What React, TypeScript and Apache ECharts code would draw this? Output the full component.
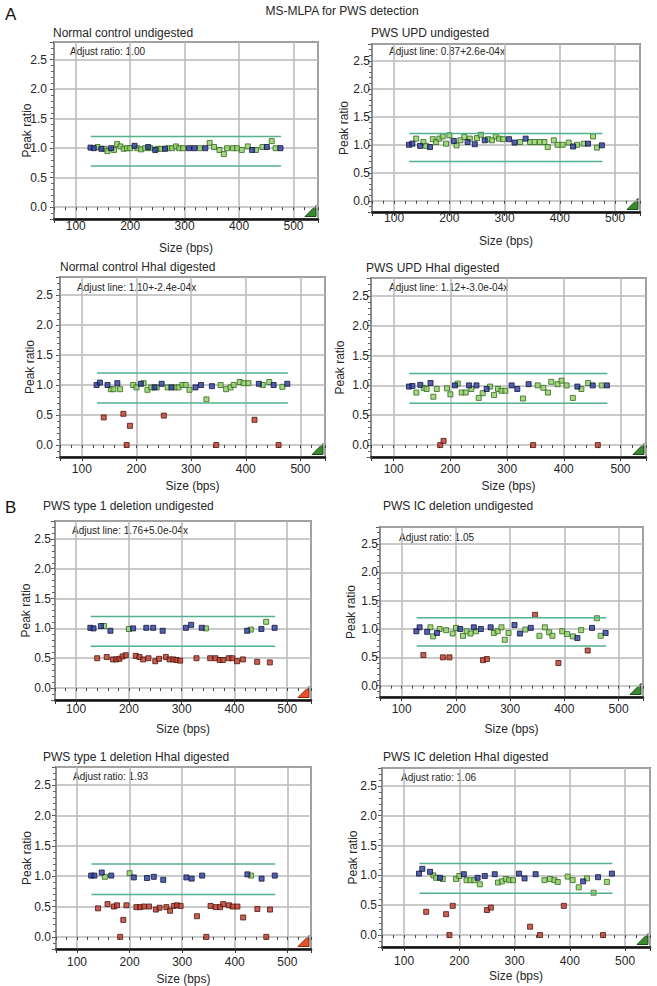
import React, { useEffect, useRef } from "react";
import * as echarts from "echarts";

// ---------- DATA ----------
const REF_SIZES = [127, 133, 147, 165, 208, 233, 246, 264, 308, 318, 338, 424, 451, 476];
const TARGET_SIZES = [140, 153, 158, 170, 176, 182, 188, 194, 200, 213, 220, 227, 237, 250, 257, 270, 277, 284, 290, 297, 328, 346, 354, 364, 372, 378, 389, 396, 405, 416, 431, 443, 460, 467];

const X_TICK_LABELS = [100, 200, 300, 400, 500];
const Y_TICK_LABELS = [0, 0.5, 1, 1.5, 2, 2.5];
const THRESHOLDS = [0.7, 1.2];
const THRESHOLD_SPAN = [127.5, 477];

const TITLES = [
  "Normal control undigested",
  "PWS UPD undigested",
  "Normal control HhaI digested",
  "PWS UPD HhaI digested",
  "PWS type 1 deletion undigested",
  "PWS IC deletion undigested",
  "PWS type 1 deletion HhaI digested",
  "PWS IC deletion HhaI digested",
];
const NOTES = [
  "Adjust ratio: 1.00",
  "Adjust line: 0.87+2.6e-04x",
  "Adjust line: 1.10+-2.4e-04x",
  "Adjust line: 1.12+-3.0e-04x",
  "Adjust line: 1.76+5.0e-04x",
  "Adjust ratio: 1.05",
  "Adjust ratio: 1.93",
  "Adjust ratio: 1.06",
];
const FLAGS = ["ok", "ok", "ok", "ok", "alert", "ok", "alert", "ok"];

// reference probe ratios (blue)
const REF_NC_UNDIG = [1.01, 1.0, 0.99, 1.0, 1.04, 1.02, 0.97, 0.99, 1.0, 1.0, 1.0, 0.97, 1.02, 1.0];
const REF_UPD_UNDIG = [1.0, 1.02, 0.98, 0.96, 1.07, 1.05, 1.01, 1.08, 1.1, 1.04, 1.11, 0.97, 1.02, 0.99];
const REF_NC_HHAI = [1.0, 1.04, 1.0, 1.03, 1.02, 0.96, 1.02, 0.96, 0.96, 1.0, 0.98, 1.02, 1.0, 1.02];
const REF_UPD_HHAI = [0.98, 0.99, 1.01, 1.04, 1.0, 1.0, 1.0, 0.94, 1.0, 0.94, 1.02, 0.98, 1.0, 1.0];
const REF_T1_UNDIG = [1.01, 1.0, 1.04, 0.96, 1.0, 1.01, 1.01, 0.96, 1.01, 1.06, 1.01, 0.96, 0.99, 1.01];
const REF_IC_UNDIG = [0.96, 1.03, 0.95, 0.93, 1.0, 1.03, 1.0, 1.03, 1.07, 0.92, 1.02, 0.84, 1.02, 0.93];
const REF_T1_HHAI = [1.01, 1.01, 1.06, 1.01, 0.98, 0.97, 0.99, 0.94, 0.98, 0.96, 1.01, 1.03, 0.96, 1.01];
const REF_IC_HHAI = [1.03, 1.11, 1.06, 0.96, 1.02, 0.96, 0.99, 1.02, 1.03, 0.95, 1.02, 0.9, 0.97, 1.03];

// target probe ratios (green inside 0.7-1.2, red outside)
const TGT_NC_UNDIG = [1.02, 0.99, 0.95, 0.97, 1.07, 1.03, 0.99, 1.0, 1.0, 1.0, 0.98, 1.0, 1.0, 0.99, 0.99, 1.0, 1.0, 1.03, 1.0, 1.0, 1.0, 1.09, 1.02, 0.97, 0.9, 1.0, 1.0, 1.0, 0.97, 1.03, 0.97, 1.02, 1.12, 1.0];
const TGT_UPD_UNDIG = [1.11, 1.05, 0.98, 1.1, 1.05, 1.11, 1.15, 1.02, 1.17, 0.99, 1.08, 1.14, 1.11, 1.12, 1.18, 1.1, 1.08, 1.15, 1.11, 1.1, 1.05, 1.05, 1.05, 1.05, 1.05, 0.96, 1.08, 1.0, 1.0, 1.04, 1.0, 1.02, 1.15, 0.95];
const TGT_NC_HHAI = [0.46, 0.93, 0.93, 0.93, 0.52, 0.0, 0.32, 1.0, 0.96, 1.03, 0.92, 0.96, 0.96, 0.49, 0.96, 0.96, 0.96, 1.0, 1.0, 0.92, 0.76, 0.0, 1.0, 0.93, 0.96, 1.0, 1.05, 1.03, 1.03, 0.42, 1.0, 1.05, 0.0, 0.97];
const TGT_UPD_HHAI = [0.88, 0.96, 0.94, 0.81, 0.94, 0.0, 0.07, 0.95, 0.85, 1.03, 0.88, 0.88, 0.94, 0.79, 0.87, 0.98, 0.84, 0.94, 0.91, 0.91, 0.78, 0.0, 1.0, 0.96, 0.88, 1.06, 1.02, 1.08, 1.0, 0.79, 0.94, 1.04, 0.0, 1.0];
const TGT_T1_UNDIG = [0.5, 1.04, 0.52, 0.48, 0.48, 0.49, 0.53, 0.55, 0.99, 0.54, 0.52, 0.48, 0.5, 0.45, 0.49, 0.52, 0.48, 0.48, 0.47, 0.46, 0.5, 1.0, 0.5, 0.5, 0.47, 0.47, 0.5, 0.5, 0.45, 0.48, 0.98, 0.44, 1.11, 0.43];
const TGT_IC_UNDIG = [0.54, 1.03, 0.87, 1.0, 0.5, 0.98, 0.5, 0.92, 1.02, 0.88, 0.96, 0.92, 0.96, 0.45, 0.47, 0.93, 0.96, 1.03, 0.81, 0.93, 0.99, 1.25, 0.88, 1.03, 0.94, 0.88, 0.4, 0.96, 0.91, 0.87, 0.98, 0.62, 1.19, 0.88];
const TGT_T1_HHAI = [0.47, 0.99, 0.54, 0.5, 0.52, 0.0, 0.28, 0.52, 1.05, 0.49, 0.49, 0.5, 0.5, 0.45, 0.48, 0.49, 0.43, 0.51, 0.52, 0.51, 0.34, 0.0, 0.51, 0.49, 0.49, 0.54, 0.52, 0.5, 0.5, 0.32, 1.01, 0.46, 0.0, 0.45];
const TGT_IC_HHAI = [0.39, 1.0, 0.96, 0.94, 0.35, 0.0, 0.49, 0.94, 0.99, 0.92, 0.92, 0.92, 0.85, 0.42, 0.46, 0.88, 0.9, 0.94, 0.92, 0.92, 0.14, 0.0, 0.92, 0.94, 0.92, 0.89, 0.49, 0.98, 0.92, 0.8, 0.95, 0.71, 0.0, 0.89];

const REF_VALUES = [REF_NC_UNDIG, REF_UPD_UNDIG, REF_NC_HHAI, REF_UPD_HHAI, REF_T1_UNDIG, REF_IC_UNDIG, REF_T1_HHAI, REF_IC_HHAI];
const TGT_VALUES = [TGT_NC_UNDIG, TGT_UPD_UNDIG, TGT_NC_HHAI, TGT_UPD_HHAI, TGT_T1_UNDIG, TGT_IC_UNDIG, TGT_T1_HHAI, TGT_IC_HHAI];

// ---------- LAYOUT ----------
const X_MIN = 60, X_MAX = 545, Y_MIN = -0.2, Y_MAX = 2.8;
const LAYOUT = [
  { l: 54, t: 42, w: 264, h: 177, lmx: 1, ngx: 23, lmy: 7, ngy: 21, tx: 53, ty: 33, nx: 70, ny: 51 },
  { l: 372, t: 44, w: 268, h: 168, lmx: 0, ngx: 23, lmy: 2, ngy: 22, tx: 371, ty: 33, nx: 389, ny: 51 },
  { l: 60, t: 277, w: 265, h: 180, lmx: 6, ngx: 23, lmy: 7, ngy: 24, tx: 60, ty: 267, nx: 77, ny: 287 },
  { l: 371, t: 278, w: 275, h: 179, lmx: 6, ngx: 23, lmy: 2, ngy: 25, tx: 366, ty: 268, nx: 389, ny: 287 },
  { l: 55, t: 521, w: 256, h: 179, lmx: 3, ngx: 23, lmy: 4, ngy: 23, tx: 43, ty: 506, nx: 72, ny: 530 },
  { l: 380, t: 527, w: 263, h: 170, lmx: 6, ngx: 26, lmy: 2, ngy: 23, tx: 383, ty: 506, nx: 399, ny: 537 },
  { l: 56, t: 767, w: 255, h: 182, lmx: 7, ngx: 24, lmy: 5, ngy: 23, tx: 43, ty: 757, nx: 73, ny: 776 },
  { l: 382, t: 768, w: 268, h: 179, lmx: 8, ngx: 23, lmy: 5, ngy: 23, tx: 383, ty: 757, nx: 401, ny: 777 },
];

const FONT = '"Liberation Sans", Arial, Helvetica, sans-serif';
const TEXT = "#262626";
const COLORS = {
  blue: { fill: "#2c3c9e", border: "#12153a" },
  green: { fill: "#94cd68", border: "#2e6a1c" },
  red: { fill: "#bd3a2c", border: "#4e150d" },
  band: "#55b08e",
  grid: "#b9b9b9",
};

function inRange(v: number) {
  return v >= THRESHOLDS[0] && v <= THRESHOLDS[1];
}

function buildOption() {
  const grid: any[] = [];
  const xAxis: any[] = [];
  const yAxis: any[] = [];
  const series: any[] = [];
  const graphic: any[] = [];

  LAYOUT.forEach((p, i) => {
    grid.push({
      left: p.l, top: p.t, width: p.w, height: p.h,
      show: true, borderColor: "#2a2a2a", borderWidth: 1.5,
      containLabel: false, outerBoundsMode: "none",
    });
    xAxis.push({
      type: "value", gridIndex: i, position: "bottom", min: X_MIN, max: X_MAX, splitNumber: 5,
      axisLine: { show: true, onZero: false, lineStyle: { color: "#111", width: 2.5 } },
      axisTick: { show: true, length: 4, lineStyle: { color: "#333", width: 1 } },
      axisLabel: {
        margin: p.lmx, fontSize: 12, color: TEXT, fontFamily: FONT,
        formatter: (v: number) => (X_TICK_LABELS.some((t) => Math.abs(t - v) < 1e-6) ? String(v) : ""),
      },
      splitLine: { show: true, lineStyle: { color: COLORS.grid, width: 1.5 } },
      name: "Size (bps)", nameLocation: "middle", nameGap: p.ngx, nameMoveOverlap: false,
      nameTextStyle: { fontSize: 12, color: TEXT, fontFamily: FONT },
    });
    xAxis.push({
      type: "value", gridIndex: i, position: "bottom", min: X_MIN, max: X_MAX, interval: 20,
      axisLine: { show: false }, axisTick: { show: true, length: 3, lineStyle: { color: "#444", width: 1 } },
      axisLabel: { show: false }, splitLine: { show: false },
    });
    yAxis.push({
      type: "value", gridIndex: i, position: "left", min: Y_MIN, max: Y_MAX, splitNumber: 5,
      axisLine: { show: true, onZero: false, lineStyle: { color: "#8a8a8a", width: 1.5 } },
      axisTick: { show: true, length: 4, lineStyle: { color: "#444", width: 1 } },
      axisLabel: {
        margin: p.lmy, fontSize: 12, color: TEXT, fontFamily: FONT,
        formatter: (v: number) => {
          const t = Y_TICK_LABELS.find((u) => Math.abs(u - v) < 1e-6);
          return t === undefined ? "" : t.toFixed(1);
        },
      },
      splitLine: { show: true, lineStyle: { color: COLORS.grid, width: 1.5 } },
      name: "Peak ratio", nameLocation: "middle", nameGap: p.ngy, nameMoveOverlap: false,
      nameTextStyle: { fontSize: 12, color: TEXT, fontFamily: FONT },
    });
    yAxis.push({
      type: "value", gridIndex: i, position: "left", min: Y_MIN, max: Y_MAX, interval: 0.1,
      axisLine: { show: false }, axisTick: { show: true, length: 3, lineStyle: { color: "#666", width: 1 } },
      axisLabel: { show: false }, splitLine: { show: false },
    });

    const xi = 2 * i, yi = 2 * i;
    THRESHOLDS.forEach((th) => {
      series.push({
        type: "line", xAxisIndex: xi, yAxisIndex: yi, silent: true, symbol: "none",
        data: [[THRESHOLD_SPAN[0], th], [THRESHOLD_SPAN[1], th]],
        lineStyle: { color: COLORS.band, width: 1.5 },
      });
    });
    const tg = TGT_VALUES[i];
    const green = TARGET_SIZES.map((s, k) => [s, tg[k]]).filter((d) => inRange(d[1]));
    const red = TARGET_SIZES.map((s, k) => [s, tg[k]]).filter((d) => !inRange(d[1]));
    const blue = REF_SIZES.map((s, k) => [s, REF_VALUES[i][k]]);
    const mk = (data: number[][], c: { fill: string; border: string }) => ({
      type: "scatter", xAxisIndex: xi, yAxisIndex: yi, silent: true,
      symbol: "rect", symbolSize: 5, data,
      itemStyle: { color: c.fill, borderColor: c.border, borderWidth: 1 },
    });
    series.push(mk(green, COLORS.green), mk(red, COLORS.red), mk(blue, COLORS.blue));

    graphic.push({
      type: "text", x: p.tx, y: p.ty, silent: true,
      style: { text: TITLES[i], fontSize: 12, fontWeight: "normal", fontFamily: FONT, fill: TEXT, align: "left", verticalAlign: "middle" },
    });
    graphic.push({
      type: "text", x: p.nx, y: p.ny, silent: true,
      style: { text: NOTES[i], fontSize: 10, fontWeight: "normal", fontFamily: FONT, fill: TEXT, align: "left", verticalAlign: "middle" },
    });
    const r = p.l + p.w - 2, b = p.t + p.h - 2.5, s = 11;
    const alert = FLAGS[i] === "alert";
    graphic.push({
      type: "polygon", silent: true,
      shape: { points: [[r - s, b], [r, b], [r, b - s]] },
      style: {
        fill: alert ? "#e5512c" : "#3a8a30",
        stroke: alert ? "#8a2a12" : "#1c4a18", lineWidth: 1,
      },
    });
  });

  graphic.push({
    type: "text", x: 342, y: 10.5, silent: true,
    style: { text: "MS-MLPA for PWS detection", fontSize: 12, fontFamily: FONT, fill: TEXT, align: "center", verticalAlign: "middle" },
  });
  graphic.push({
    type: "text", x: 5, y: 14.5, silent: true,
    style: { text: "A", fontSize: 17, fontFamily: FONT, fill: "#111", align: "left", verticalAlign: "middle" },
  });
  graphic.push({
    type: "text", x: 5, y: 507.5, silent: true,
    style: { text: "B", fontSize: 17, fontFamily: FONT, fill: "#111", align: "left", verticalAlign: "middle" },
  });

  return {
    animation: false,
    backgroundColor: "#ffffff",
    textStyle: { fontFamily: FONT },
    grid, xAxis, yAxis, series, graphic,
  };
}

export default function App() {
  const ref = useRef<HTMLDivElement>(null);
  useEffect(() => {
    const chart = echarts.init(ref.current as HTMLDivElement, null, { renderer: "svg" });
    chart.setOption(buildOption() as any);
    return () => chart.dispose();
  }, []);
  return (
    <div
      ref={ref}
      style={{ position: "absolute", left: 0, top: 0, width: 657, height: 986, background: "#fff" }}
    />
  );
}
